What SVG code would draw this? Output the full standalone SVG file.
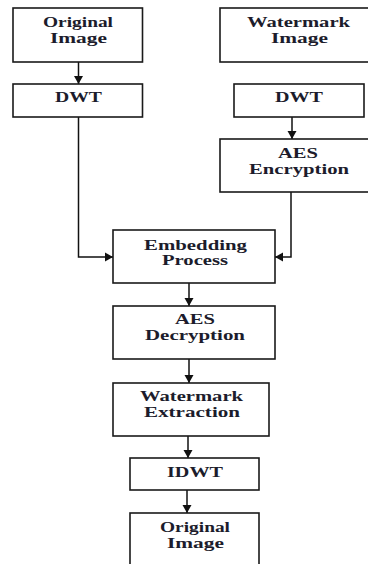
<svg xmlns="http://www.w3.org/2000/svg" width="368" height="564" viewBox="0 0 368 564">
<style>
.box{fill:#fff;stroke:#1a1a1a;stroke-width:1.6}
.lbl{font-family:"Liberation Serif","Times New Roman",serif;font-size:15px;font-weight:bold;fill:#1c1c2c;text-anchor:middle}
.con{fill:none;stroke:#111;stroke-width:1.5}
</style>
<defs>
<marker id="ah" markerUnits="userSpaceOnUse" markerWidth="10" markerHeight="10" refX="8" refY="5" orient="auto">
<path d="M0,0.5 L8,5 L0,9.5 Z" fill="#111"/>
</marker>
</defs>
<rect width="368" height="564" fill="#fff"/>
<g id="connectors">
<path class="con" d="M78.5,62 V84" marker-end="url(#ah)"/>
<path class="con" d="M292,117 V139" marker-end="url(#ah)"/>
<path class="con" d="M78.5,117 V257 H113" marker-end="url(#ah)"/>
<path class="con" d="M291,192 V257 H275" marker-end="url(#ah)"/>
<path class="con" d="M189,283 V306" marker-end="url(#ah)"/>
<path class="con" d="M189,359 V383" marker-end="url(#ah)"/>
<path class="con" d="M188,436 V458" marker-end="url(#ah)"/>
<path class="con" d="M187,490 V513" marker-end="url(#ah)"/>
</g>
<g id="original-image">
<rect class="box" x="13" y="8" width="129.5" height="54"/>
<text class="lbl" x="78" y="27" textLength="70" lengthAdjust="spacingAndGlyphs">Original</text>
<text class="lbl" x="78.5" y="43" textLength="57" lengthAdjust="spacingAndGlyphs">Image</text>
</g>
<g id="watermark-image">
<rect class="box" x="220" y="8" width="160" height="54"/>
<text class="lbl" x="298.5" y="27" textLength="103" lengthAdjust="spacingAndGlyphs">Watermark</text>
<text class="lbl" x="299.5" y="43" textLength="57" lengthAdjust="spacingAndGlyphs">Image</text>
</g>
<g id="dwt-left">
<rect class="box" x="13" y="84" width="129.5" height="33"/>
<text class="lbl" x="78.5" y="102" textLength="47" lengthAdjust="spacingAndGlyphs">DWT</text>
</g>
<g id="dwt-right">
<rect class="box" x="234" y="84" width="130" height="33"/>
<text class="lbl" x="299" y="102" textLength="48" lengthAdjust="spacingAndGlyphs">DWT</text>
</g>
<g id="aes-encryption">
<rect class="box" x="220" y="139" width="160" height="53"/>
<text class="lbl" x="298" y="158" textLength="40" lengthAdjust="spacingAndGlyphs">AES</text>
<text class="lbl" x="299" y="174" textLength="100" lengthAdjust="spacingAndGlyphs">Encryption</text>
</g>
<g id="embedding-process">
<rect class="box" x="113" y="230" width="162" height="53"/>
<text class="lbl" x="195.5" y="250" textLength="103" lengthAdjust="spacingAndGlyphs">Embedding</text>
<text class="lbl" x="195" y="265" textLength="66" lengthAdjust="spacingAndGlyphs">Process</text>
</g>
<g id="aes-decryption">
<rect class="box" x="113" y="306" width="162" height="53"/>
<text class="lbl" x="195" y="324" textLength="40" lengthAdjust="spacingAndGlyphs">AES</text>
<text class="lbl" x="195" y="340" textLength="100" lengthAdjust="spacingAndGlyphs">Decryption</text>
</g>
<g id="watermark-extraction">
<rect class="box" x="113" y="383" width="156" height="53"/>
<text class="lbl" x="191.5" y="401" textLength="103" lengthAdjust="spacingAndGlyphs">Watermark</text>
<text class="lbl" x="192" y="417" textLength="96" lengthAdjust="spacingAndGlyphs">Extraction</text>
</g>
<g id="idwt">
<rect class="box" x="130" y="458" width="129" height="32"/>
<text class="lbl" x="195" y="477" textLength="56" lengthAdjust="spacingAndGlyphs">IDWT</text>
</g>
<g id="original-image-out">
<rect class="box" x="130" y="513" width="129" height="60"/>
<text class="lbl" x="195" y="532" textLength="70" lengthAdjust="spacingAndGlyphs">Original</text>
<text class="lbl" x="195.5" y="548" textLength="57" lengthAdjust="spacingAndGlyphs">Image</text>
</g>
</svg>
